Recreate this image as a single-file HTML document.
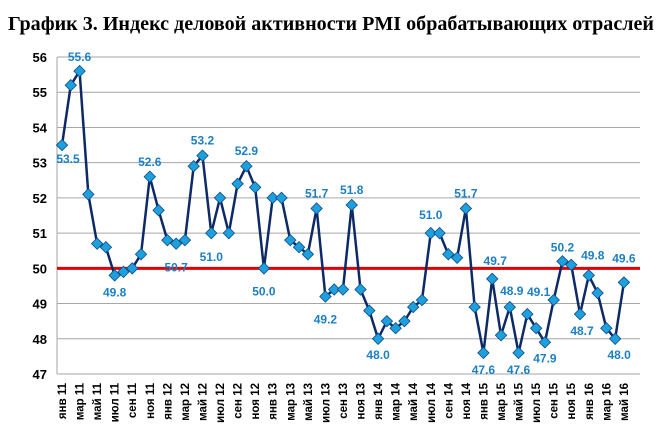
<!DOCTYPE html>
<html><head><meta charset="utf-8"><style>
body{margin:0;background:#fff;width:670px;height:438px;overflow:hidden}
</style></head><body>
<svg width="670" height="438" xmlns="http://www.w3.org/2000/svg" id="s">
<text x="8" y="30" textLength="646" lengthAdjust="spacingAndGlyphs" font-family="Liberation Serif, serif" font-weight="bold" font-size="20">График 3. Индекс деловой активности PMI обрабатывающих отраслей</text>
<g id="g"></g>
</svg>
<script>
var d=[53.5,55.2,55.6,52.1,50.7,50.6,49.8,49.9,50.0,50.4,52.6,51.65,
50.8,50.7,50.8,52.9,53.2,51.0,52.0,51.0,52.4,52.9,52.3,50.0,
52.0,52.0,50.8,50.6,50.4,51.7,49.2,49.4,49.4,51.8,49.4,48.8,
48.0,48.5,48.3,48.5,48.9,49.1,51.0,51.0,50.4,50.3,51.7,48.9,
47.6,49.7,48.1,48.9,47.6,48.7,48.3,47.9,49.1,50.2,50.1,48.7,
49.8,49.3,48.3,48.0,49.6];
function Y(v){return 374-(v-47)*35.22;}
function X(i){return 62+i*8.78;}
var h='';
for(var v=47;v<=56;v++){var y=Y(v);h+='<line x1="57" x2="640" y1="'+y+'" y2="'+y+'" stroke="#a6a6a6" stroke-width="1"/>';
h+='<text x="47" y="'+(y+5)+'" text-anchor="end" font-family="Liberation Sans,sans-serif" font-weight="bold" font-size="13">'+v+'</text>';}
h+='<line x1="57" x2="57" y1="57" y2="374" stroke="#a6a6a6"/>';
h+='<line x1="57" x2="640" y1="'+Y(50)+'" y2="'+Y(50)+'" stroke="#e00000" stroke-width="3"/>';
var p='';for(var i=0;i<d.length;i++)p+=X(i)+','+Y(d[i])+' ';
h+='<polyline points="'+p+'" fill="none" stroke="#0d2a66" stroke-width="2.5"/>';
for(var i=0;i<d.length;i++){var x=X(i),y=Y(d[i]);h+='<rect x="'+(x-4)+'" y="'+(y-4)+'" width="8" height="8" transform="rotate(45 '+x+' '+y+')" fill="#1ea0dc" stroke="#0d4a8a" stroke-width="0.8"/>';}
var m=['янв','мар','май','июл','сен','ноя'];
for(var i=0;i<d.length;i+=2){var yr=11+Math.floor(i/12);var x=X(i)+4;
h+='<text transform="translate('+x+',383) rotate(-90)" text-anchor="end" font-family="Liberation Sans,sans-serif" font-weight="bold" font-size="11.5">'+m[(i%12)/2]+' '+yr+'</text>';}
var L=[[0,53.5,6,18],[2,55.6,0,-10],[6,49.8,0,21],[10,52.6,0,-11],[13,50.7,0,28],[16,53.2,0,-11],[17,51.0,0,28],[21,52.9,0,-11],[23,50.0,0,27],[29,51.7,0,-11],[30,49.2,0,27],[33,51.8,0,-11],[36,48.0,0,20],[42,51.0,0,-14],[46,51.7,0,-11],[48,47.6,0,21],[49,49.7,3,-14],[51,48.9,2,-12],[52,47.6,0,21],[56,49.1,-15,-4],[55,47.9,0,20],[57,50.2,0,-10],[59,48.7,2,21],[60,49.8,4,-16],[63,48.0,4,20],[64,49.6,0,-20]];
L.forEach(function(a){h+='<text x="'+(X(a[0])+a[2])+'" y="'+(Y(a[1])+a[3])+'" text-anchor="middle" font-family="Liberation Sans,sans-serif" font-weight="bold" font-size="12" fill="#1c7fc4">'+a[1].toFixed(1)+'</text>';});
document.getElementById('g').innerHTML=h;
</script>
</body></html>
